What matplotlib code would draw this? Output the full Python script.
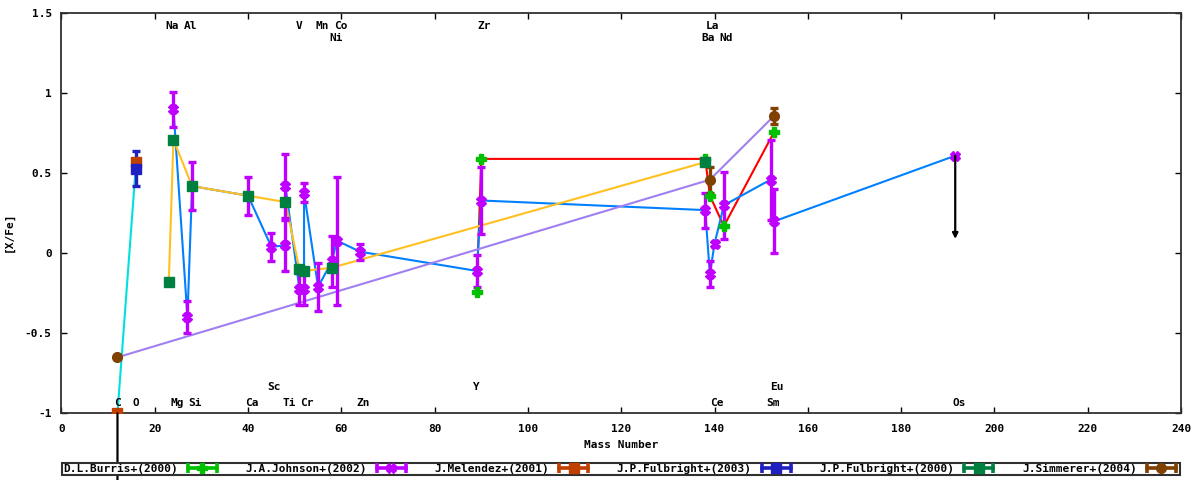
import matplotlib
matplotlib.use("Agg")
import matplotlib.pyplot as plt
from matplotlib.lines import Line2D
from matplotlib.legend_handler import HandlerLine2D, HandlerTuple

# ---- data ----
burris_x = [89, 90, 138, 139, 142, 152.8]
burris_y = [-0.24, 0.59, 0.59, 0.36, 0.17, 0.76]

johnson_x = [24, 27, 28, 40, 45, 48, 48, 51, 52, 52, 55, 58, 59, 64,
             89, 90, 138, 139, 140, 142, 152, 152.8, 191.6]
johnson_y = [0.90, -0.40, 0.42, 0.36, 0.04, 0.05, 0.42, -0.22, -0.22, 0.38,
             -0.21, -0.05, 0.08, 0.01, -0.11, 0.33, 0.27, -0.13, 0.06, 0.30,
             0.46, 0.20, 0.61]
johnson_err = [0.11, 0.10, 0.15, 0.12, 0.09, 0.16, 0.20, 0.10, 0.10, 0.06,
               0.15, 0.16, 0.40, 0.05, 0.10, 0.21, 0.11, 0.08, 0.02, 0.21,
               0.25, 0.20, 0.0]

melendez_x = [12, 16]
melendez_y = [-1.0, 0.57]

fulbright03_x = [16]
fulbright03_y = [0.53]
fulbright03_err = [0.11]

fulbright00_x = [23, 24, 28, 40, 48, 51, 52, 58, 138]
fulbright00_y = [-0.18, 0.71, 0.42, 0.36, 0.32, -0.10, -0.11, -0.09, 0.57]

simmerer_x = [12, 139, 152.8]
simmerer_y = [-0.65, 0.46, 0.86]
simmerer_err = [0.0, 0.08, 0.05]

# upper limits (x, from, to)
limits = [(12, -1.0, -1.5), (191.6, 0.61, 0.09)]

# element labels: name, x, y
elements = [
    ("Na", 23.8, 1.42), ("Al", 27.6, 1.42), ("V", 51.0, 1.42),
    ("Mn", 55.9, 1.42), ("Co", 59.9, 1.42), ("Zr", 90.6, 1.42),
    ("La", 139.5, 1.42),
    ("Ni", 58.8, 1.345), ("Ba", 138.6, 1.345), ("Nd", 142.5, 1.345),
    ("Sc", 45.6, -0.835), ("Y", 88.9, -0.835), ("Eu", 153.4, -0.835),
    ("C", 12.0, -0.935), ("O", 16.0, -0.935), ("Mg", 24.8, -0.935),
    ("Si", 28.7, -0.935), ("Ca", 40.9, -0.935), ("Ti", 48.9, -0.935),
    ("Cr", 52.7, -0.935), ("Zn", 64.7, -0.935), ("Ce", 140.6, -0.935),
    ("Sm", 152.6, -0.935), ("Os", 192.4, -0.935),
]

x_ticks = list(range(0, 241, 20))
y_ticks = [-1, -0.5, 0, 0.5, 1, 1.5]
y_tick_labels = ["-1", "-0.5", "0", "0.5", "1", "1.5"]

FONT = "DejaVu Sans Mono"
FS = 8


def draw_series(ax, x, y, err, mcolor, marker, ms, lcolor, label):
    if lcolor:
        ax.plot(x, y, color=lcolor, lw=1.5, zorder=2)
    ax.errorbar(x, y, yerr=err, fmt=marker, color=mcolor, ms=ms,
                elinewidth=2.4, capsize=3, capthick=2.4, zorder=3)
    cap = Line2D([], [], color=mcolor, lw=2.6, marker="|", ms=7, mew=2.6)
    mark = Line2D([], [], color=mcolor, ls="none", marker=marker, ms=ms)
    return (cap, mark), cap, label


def main():
    fig = plt.figure(figsize=(12, 4.8), dpi=100)
    ax = fig.add_axes([61.5 / 1200, 1 - 413.3 / 480, 1119.5 / 1200, 400 / 480])

    entries = [
        draw_series(ax, burris_x, burris_y, None, "#00c000", "P", 7.5,
                    "#ff0000", "D.L.Burris+(2000)"),
        draw_series(ax, johnson_x, johnson_y, johnson_err, "#c000ff", "X", 7,
                    "#0080ff", "J.A.Johnson+(2002)"),
        draw_series(ax, melendez_x, melendez_y, None, "#c04000", "s", 7,
                    "#00e0e0", "J.Melendez+(2001)"),
        draw_series(ax, fulbright03_x, fulbright03_y, fulbright03_err,
                    "#2020c0", "s", 7, None, "J.P.Fulbright+(2003)"),
        draw_series(ax, fulbright00_x, fulbright00_y, None, "#008040", "s", 7.5,
                    "#ffc020", "J.P.Fulbright+(2000)"),
        draw_series(ax, simmerer_x, simmerer_y, simmerer_err, "#804000", "o", 7,
                    "#a080f0", "J.Simmerer+(2004)"),
    ]

    for x, y0, y1 in limits:
        ax.annotate("", xy=(x, y1), xytext=(x, y0), annotation_clip=False,
                    arrowprops=dict(arrowstyle="-|>", color="black", lw=1.6,
                                    mutation_scale=8, shrinkA=0, shrinkB=0),
                    zorder=4)

    for name, x, y in elements:
        ax.text(x, y, name, ha="center", va="center", family=FONT,
                fontsize=FS, fontweight="bold")

    ax.set_xlim(0, 240)
    ax.set_ylim(-1, 1.5)
    ax.set_xticks(x_ticks)
    ax.set_xticklabels([str(t) for t in x_ticks])
    ax.set_yticks(y_ticks)
    ax.set_yticklabels(y_tick_labels)
    ax.tick_params(direction="in", length=4, width=1, top=True, right=True,
                   labelsize=FS)
    ax.tick_params(axis="x", pad=8)
    ax.tick_params(axis="y", pad=7)
    for lab in ax.get_xticklabels() + ax.get_yticklabels():
        lab.set_family(FONT)
        lab.set_fontweight("bold")
    for sp in ax.spines.values():
        sp.set_linewidth(1.3)
        sp.set_color("#303030")

    ax.set_xlabel("Mass Number", family=FONT, fontsize=FS, fontweight="bold",
                  labelpad=4)
    ax.set_ylabel("[X/Fe]", family=FONT, fontsize=FS, fontweight="bold")
    ax.yaxis.set_label_coords(-0.043, 0.455)

    handles = [e[0] for e in entries]
    labels = [e[2] for e in entries]
    hmap = {e[1]: HandlerLine2D(numpoints=2) for e in entries}
    hmap[tuple] = HandlerTuple(ndivide=1)
    leg = fig.legend(handles, labels, handler_map=hmap, ncol=6, mode="expand",
                     markerfirst=False, loc="lower left",
                     bbox_to_anchor=(62 / 1200, 1 - 475 / 480, 1118 / 1200, 13 / 480),
                     borderaxespad=0, borderpad=0.1, handlelength=3.2,
                     handletextpad=0.6, fancybox=False, framealpha=1,
                     prop=dict(family=FONT, size=FS, weight="bold"))
    leg.get_frame().set_edgecolor("#303030")
    leg.get_frame().set_linewidth(1.5)

    fig.savefig("out.png", dpi=100)
    plt.close(fig)


if __name__ == "__main__":
    main()
